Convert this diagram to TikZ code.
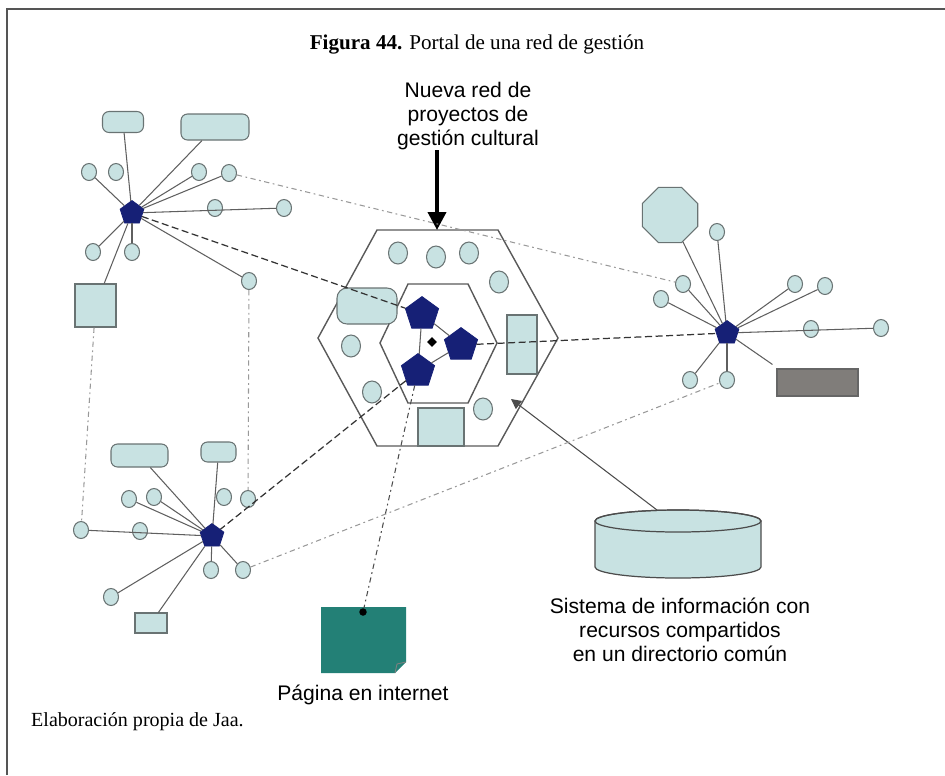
\documentclass[tikz,border=0pt]{standalone}
\usepackage{fontspec}
\setmainfont{Liberation Serif}
\setsansfont{Liberation Sans}
\usetikzlibrary{shapes.geometric}
\usetikzlibrary{arrows.meta}

\definecolor{pale}{RGB}{200,226,226}
\definecolor{edge}{RGB}{105,115,115}
\definecolor{navy}{RGB}{22,32,118}
\definecolor{slab}{RGB}{128,125,122}
\definecolor{leaf}{RGB}{35,128,118}
\definecolor{wire}{RGB}{95,95,95}
\definecolor{framecol}{RGB}{85,85,85}

\begin{document}
\begin{tikzpicture}[x=0.02cm,y=-0.02cm,
  circ/.style={ellipse,draw=edge,fill=pale,line width=0.6pt,minimum width=0.3cm,minimum height=0.34cm,inner sep=0},
  bigcirc/.style={circ,minimum width=0.38cm,minimum height=0.44cm},
  hub/.style={regular polygon,regular polygon sides=5,fill=navy,draw=navy,minimum size=0.5cm,inner sep=0},
  core/.style={hub,minimum size=0.7cm},
  box/.style={rectangle,draw=edge,fill=pale,line width=0.6pt,inner sep=0},
  tag/.style={box,rounded corners=0.13cm},
  spoke/.style={draw=wire,line width=0.6pt},
  dashlink/.style={draw=black!80,line width=0.7pt,dash pattern=on 4pt off 2pt},
  dotlink/.style={draw=black!40,line width=0.6pt,dash pattern=on 3pt off 2pt on 1pt off 2pt},
  hexline/.style={draw=black!65,line width=0.8pt},
  label/.style={font=\sffamily\fontsize{12}{13.6}\selectfont,align=center,inner sep=0}
]
\useasboundingbox (0,0) rectangle (945,775);

% frame and captions
\draw[framecol,line width=1.2pt] (7,775) -- (7,9) -- (945,9);
\node[font=\fontsize{12}{14}\selectfont] (title) at (477,44) {\textbf{Figura 44.} Portal de una red de gestión};
\node[font=\fontsize{11.4}{14}\selectfont,anchor=west] (source) at (25,722) {Elaboración propia de Jaa.};

% the new network
\draw[hexline] (377,230) -- (498,230) -- (558,338) -- (498,446) -- (377,446) -- (318,338) -- cycle;
\draw[hexline] (408,284) -- (468,284) -- (497,343) -- (468,403) -- (408,403) -- (380,343) -- cycle;
\coordinate (hextop) at (437,230);
\node[label] (nueva) at (468,116) {Nueva red de\\proyectos de\\gestión cultural};
\draw[line width=2.2pt,-{Triangle[length=0.36cm,width=0.36cm]}] (hextop |- nueva.south) -- (hextop);

\node[bigcirc] (k1) at (398,253) {};
\node[bigcirc] (k2) at (436,257) {};
\node[bigcirc] (k3) at (469,253) {};
\node[bigcirc] (k4) at (499,282) {};
\node[bigcirc] (k5) at (351,346) {};
\node[bigcirc] (k6) at (372,392) {};
\node[bigcirc] (k7) at (483,409) {};
\node[tag,minimum width=1.2cm,minimum height=0.72cm,rounded corners=0.2cm] (kt) at (367,306) {};
\node[box,minimum width=0.6cm,minimum height=1.18cm] (kr) at (522,344.5) {};
\node[box,minimum width=0.92cm,minimum height=0.76cm] (kb) at (441,427) {};

\node[core] (pA) at (422,314) {};
\node[core] (pB) at (461,345) {};
\node[core] (pC) at (418,371) {};
\node[diamond,fill=black,minimum size=0.2cm,inner sep=0] (kd) at (432,342) {};
\draw[spoke] (pA) -- (pC);
\draw[spoke] (pA) -- (pB);
\draw[spoke] (pC) -- (pB);

% top-left network
\node[hub] (hA) at (132,213) {};
\node[tag,minimum width=0.82cm,minimum height=0.42cm] (hAt1) at (123,122) {};
\node[tag,minimum width=1.36cm,minimum height=0.52cm] (hAt2) at (215,127) {};
\node[circ] (hA1) at (89,172) {};
\node[circ] (hA2) at (116,172) {};
\node[circ] (hA3) at (199,172) {};
\node[circ] (hA4) at (229,173) {};
\node[circ] (hA5) at (215,208) {};
\node[circ] (hA6) at (284,208) {};
\node[circ] (hA7) at (93,252) {};
\node[circ] (hA8) at (132,252) {};
\node[circ] (hA9) at (249,281) {};
\node[box,minimum width=0.82cm,minimum height=0.86cm] (hAb) at (95.5,305.5) {};
\draw[spoke] (hA) -- (hAt1);
\draw[spoke] (hA) -- (hAt2);
\draw[spoke] (hA) -- (hA1);
\draw[spoke] (hA) -- (hA3);
\draw[spoke] (hA) -- (hA4);
\draw[spoke] (hA) -- (hA6);
\draw[spoke] (hA) -- (hA7);
\draw[spoke] (hA) -- (hA8);
\draw[spoke] (hA) -- (hA9);
\draw[spoke] (hA) -- (hAb);

% bottom-left network
\node[hub] (hB) at (212,536) {};
\node[tag,minimum width=1.14cm,minimum height=0.46cm] (hBt1) at (139.5,455.5) {};
\node[tag,minimum width=0.7cm,minimum height=0.4cm] (hBt2) at (218.5,452) {};
\node[circ] (hB1) at (129,499) {};
\node[circ] (hB2) at (154,497) {};
\node[circ] (hB3) at (224,497) {};
\node[circ] (hB4) at (248,499) {};
\node[circ] (hB5) at (81,530) {};
\node[circ] (hB6) at (140,531) {};
\node[circ] (hB7) at (211,570) {};
\node[circ] (hB8) at (243,570) {};
\node[circ] (hB9) at (111,597) {};
\node[box,minimum width=0.64cm,minimum height=0.4cm] (hBb) at (151,623) {};
\draw[spoke] (hB) -- (hBt1);
\draw[spoke] (hB) -- (hBt2);
\draw[spoke] (hB) -- (hB1);
\draw[spoke] (hB) -- (hB2);
\draw[spoke] (hB) -- (hB5);
\draw[spoke] (hB) -- (hB7);
\draw[spoke] (hB) -- (hB8);
\draw[spoke] (hB) -- (hB9);
\draw[spoke] (hB) -- (hBb);

% right network
\node[hub] (hC) at (727,333) {};
\node[regular polygon,regular polygon sides=8,draw=edge,fill=pale,line width=0.6pt,minimum size=1.2cm,inner sep=0] (hCo) at (670,215) {};
\node[circ] (hC1) at (717,232) {};
\node[circ] (hC2) at (683,284) {};
\node[circ] (hC3) at (661,299) {};
\node[circ] (hC4) at (795,284) {};
\node[circ] (hC5) at (825,286) {};
\node[circ] (hC6) at (811,329) {};
\node[circ] (hC7) at (881,328) {};
\node[circ] (hC8) at (690,380) {};
\node[circ] (hC9) at (727,380) {};
\node[rectangle,draw=black!60,fill=slab,line width=0.6pt,minimum width=1.62cm,minimum height=0.54cm,inner sep=0] (hCr) at (817.5,382.5) {};
\draw[spoke] (hC) -- (hCo);
\draw[spoke] (hC) -- (hC1);
\draw[spoke] (hC) -- (hC2);
\draw[spoke] (hC) -- (hC3);
\draw[spoke] (hC) -- (hC4);
\draw[spoke] (hC) -- (hC5);
\draw[spoke] (hC) -- (hC7);
\draw[spoke] (hC) -- (hC8);
\draw[spoke] (hC) -- (hC9);
\draw[spoke] (hC) -- ([shift={(-4,-4)}]hCr.north west);

% web page
\fill[leaf] (321,607) -- (406,607) -- (406,662) -- (395,673) -- (321,673) -- cycle;
\draw[black!50,line width=0.5pt] (406,662) -- (397,664) -- (395,673);
\node[circle,fill=black,minimum size=0.15cm,inner sep=0] (pagedot) at (363,612) {};
\node[label] (pagina) at (363,695) {Página en internet};

% shared directory
\filldraw[fill=pale,draw=black!70,line width=0.7pt] (595,521) -- (595,567) arc[start angle=180,end angle=0,x radius=83,y radius=11] -- (761,521) arc[start angle=0,end angle=-180,x radius=83,y radius=11] -- cycle;
\draw[black!70,line width=0.7pt] (678,521) ellipse[x radius=83,y radius=11];
\coordinate (dbtop) at (657,510);
\coordinate (dbtip) at (511,399);
\draw[black!70,line width=0.6pt,-{Triangle[length=0.2cm,width=0.2cm]}] (dbtop) -- (dbtip);
\node[label] (sistema) at (680,630) {Sistema de información con\\recursos compartidos\\en un directorio común};

% links between the networks
\draw[dotlink] (hA4) -- (hC2);
\draw[dashlink] (hA) -- (pA);
\draw[dashlink] (pB) -- (hC);
\draw[dashlink] (pC) -- (hB);
\draw[dotlink,draw=black!70] (pC) -- (pagedot);
\draw[dotlink] (hB8) -- (hC9);
\draw[dotlink] (hAb) -- (hB5);
\draw[dotlink] (hA9) -- (hB4);

\end{tikzpicture}
\end{document}
